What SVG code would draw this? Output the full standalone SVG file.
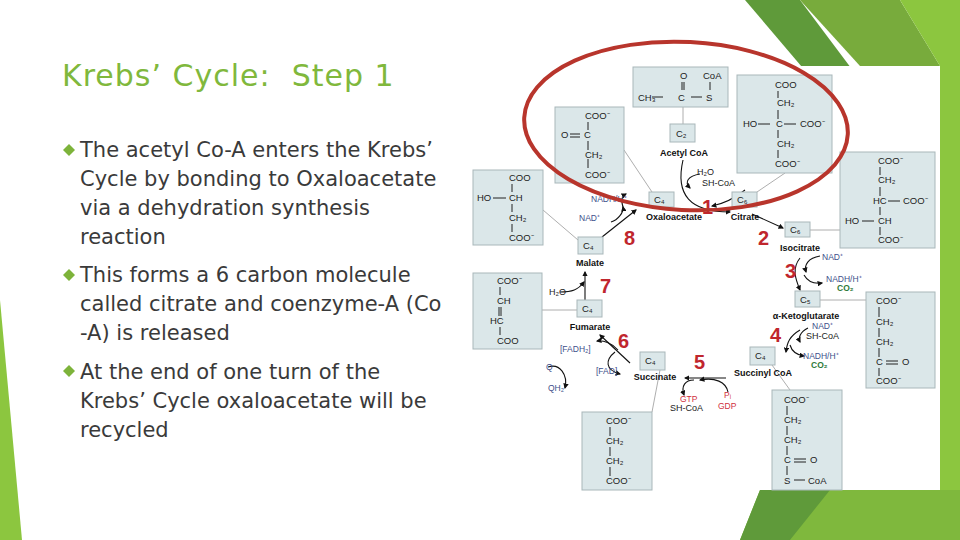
<svg xmlns="http://www.w3.org/2000/svg" width="960" height="540" viewBox="0 0 960 540">
<style>
.body{font-family:"DejaVu Sans",sans-serif;font-size:21px;fill:#3a3a3a}
.box{fill:#dbe7e9;stroke:#a9b7ba;stroke-width:1}
.ch{font-family:"Liberation Sans",Arial,sans-serif;font-size:9.5px;fill:#222}
.sm{font-family:"Liberation Sans",Arial,sans-serif;font-size:9px;fill:#222}
.nm{font-family:"Liberation Sans",Arial,sans-serif;font-size:9px;font-weight:bold;fill:#111}
.num{font-family:"Liberation Sans Narrow","Liberation Sans",sans-serif;font-size:20px;font-weight:bold;fill:#c0262d}
.bl{font-family:"Liberation Sans",sans-serif;font-size:8.5px;fill:#3d4f8a}
.gr{font-family:"Liberation Sans",sans-serif;font-size:8.5px;font-weight:bold;fill:#2f7a3a}
.rd{font-family:"Liberation Sans",sans-serif;font-size:8.5px;fill:#d03040}
.ln{stroke:#999;stroke-width:0.8;fill:none}
.ar{stroke:#111;stroke-width:1.1;fill:none;marker-end:url(#ah)}
.bond{stroke:#222;stroke-width:1;fill:none}
</style>
<defs><marker id="ah" markerWidth="5" markerHeight="5" refX="4" refY="2.5" orient="auto"><path d="M0,0 L5,2.5 L0,5 z" fill="#111"/></marker></defs>
<rect width="960" height="540" fill="#fff"/>
<g id="decor">
<polygon points="745,0 800,0 860,80 830,100" fill="#5f9a3a"/>
<polygon points="800,0 900,0 940,66 860,66" fill="#78ab3c"/>
<polygon points="900,0 960,0 960,540 940,540 940,66" fill="#8cc63f"/>
<polygon points="760,490 960,490 960,540 740,540" fill="#7fb83d"/>
<polygon points="760,490 830,490 790,540 740,540" fill="#5f9a3a"/>
<polygon points="0,300 22,540 0,540" fill="#8cc63f"/>
</g>
<g id="title"><text x="62" y="86" xml:space="preserve" font-family="DejaVu Sans,sans-serif" font-size="30" letter-spacing="1" fill="#80b83c">Krebs’ Cycle:  Step 1</text></g>
<g id="bullets">
<g fill="#7db33a"><path d="M63,150 l6,-6 l6,6 l-6,6z"/><path d="M63,275 l6,-6 l6,6 l-6,6z"/><path d="M63,371 l6,-6 l6,6 l-6,6z"/></g>
<text class="body" x="80" y="157">The acetyl Co-A enters the Krebs’</text>
<text class="body" x="80" y="186">Cycle by bonding to Oxaloacetate</text>
<text class="body" x="80" y="215">via a dehydration synthesis</text>
<text class="body" x="80" y="244">reaction</text>
<text class="body" x="80" y="282">This forms a 6 carbon molecule</text>
<text class="body" x="80" y="311">called citrate and coenzyme-A (Co</text>
<text class="body" x="80" y="340">-A) is released</text>
<text class="body" x="80" y="379">At the end of one turn of the</text>
<text class="body" x="80" y="408">Krebs’ Cycle oxaloacetate will be</text>
<text class="body" x="80" y="437">recycled</text>
</g>
<rect x="470" y="66" width="470" height="424" fill="#fff"/>
<g id="connectors">
<path class="ln" d="M683,107 V124 M624,150 L652,192 M757,192 L785,173 M543,210 L578,240 M810,230 H840 M542,310 H577 M652,412 L660,370 M820,300 H866 M772,365 L790,390"/>
<path class="ar" d="M683,160 C675,195 690,212 730,212"/>
<path class="ar" d="M700,174 C688,176 684,182 690,188"/>
<path class="ar" d="M745,190 C735,198 722,204 712,206"/>
<path class="ar" d="M675,210 H730"/>
<path class="ar" d="M752,214 L783,228"/>
<path class="ar" d="M800,258 C792,268 795,278 800,290"/>
<path class="ar" d="M820,256 C808,258 804,265 806,272"/>
<path class="ar" d="M804,275 C808,282 815,284 822,283"/>
<path class="ar" d="M800,330 C790,336 787,342 786,352"/>
<path class="ar" d="M808,328 C800,332 798,338 800,342"/>
<path class="ar" d="M790,345 C792,352 797,355 804,356"/>
<path class="ar" d="M726,378 H685"/>
<path class="ar" d="M728,392 C726,382 715,377 700,380"/>
<path class="ar" d="M694,380 C685,380 681,386 684,395"/>
<path class="ar" d="M630,363 L600,335"/>
<path class="ar" d="M618,350 C612,343 603,340 597,341"/>
<path class="ar" d="M615,352 C605,360 605,370 620,374"/>
<path class="ar" d="M548,367 C560,363 568,375 565,388"/>
<path class="ar" d="M585,300 V272"/>
<path class="ar" d="M560,292 C572,292 578,290 584,282"/>
<path class="ar" d="M602,237 L636,210"/>
<path class="ar" d="M611,222 C618,220 624,212 623,207"/>
<path class="ar" d="M624,210 C620,200 622,196 626,194"/>
</g>
<g id="acetyl"><rect class="box" x="633" y="67" width="95" height="40"/>
<text class="ch" x="680" y="79">O</text><text class="ch" x="703" y="79">CoA</text>
<path class="bond" d="M682,82 V90 M684,82 V90 M710,82 V90 M652,97 H663 M691,97 H702"/>
<text class="ch" x="638" y="101">CH₃</text><text class="ch" x="678" y="101">C</text><text class="ch" x="706" y="101">S</text>
<rect class="box" x="670" y="124" width="25" height="18"/><text class="ch" x="676" y="137">C₂</text>
<text class="nm" x="684" y="156" text-anchor="middle">Acetyl CoA</text></g>
<g id="oxaloacetate"><rect class="box" x="555" y="107" width="69" height="76"/>
<text class="ch" x="585" y="119">COO⁻</text><text class="ch" x="561" y="138">O</text><path class="bond" d="M570,134 H580 M570,137 H580 M588,122 V130 M588,141 V150 M588,159 V168"/><text class="ch" x="584" y="138">C</text>
<text class="ch" x="585" y="158">CH₂</text><text class="ch" x="585" y="178">COO⁻</text>
<rect class="box" x="649" y="192" width="25" height="15"/><text class="ch" x="654" y="203">C₄</text>
<text class="nm" x="674" y="220" text-anchor="middle">Oxaloacetate</text></g>
<g id="citrate"><rect class="box" x="737" y="75" width="95" height="98"/>
<text class="ch" x="775" y="88">COO</text><text class="ch" x="777" y="106">CH₂</text><text class="ch" x="743" y="127">HO</text><text class="ch" x="776" y="127">C</text><text class="ch" x="800" y="127">COO⁻</text><text class="ch" x="777" y="147">CH₂</text><text class="ch" x="775" y="167">COO⁻</text>
<path class="bond" d="M778,91 V98 M778,110 V119 M778,130 V138 M778,150 V158 M758,124 H770 M784,124 H796"/>
<rect class="box" x="732" y="192" width="25" height="15"/><text class="ch" x="737" y="203">C₆</text>
<text class="nm" x="745" y="220" text-anchor="middle">Citrate</text></g>
<g id="isocitrate"><rect class="box" x="840" y="152" width="95" height="96"/>
<text class="ch" x="878" y="164">COO⁻</text><text class="ch" x="878" y="183">CH₂</text><text class="ch" x="873" y="204">HC</text><text class="ch" x="903" y="204">COO⁻</text><text class="ch" x="845" y="224">HO</text><text class="ch" x="878" y="224">CH</text><text class="ch" x="878" y="243">COO⁻</text>
<path class="bond" d="M880,167 V175 M880,187 V196 M880,207 V215 M880,227 V235 M888,201 H900 M862,221 H874"/>
<rect class="box" x="785" y="222" width="25" height="15"/><text class="ch" x="790" y="233">C₆</text>
<text class="nm" x="800" y="251" text-anchor="middle">Isocitrate</text></g>
<g id="malate"><rect class="box" x="473" y="170" width="70" height="75"/>
<text class="ch" x="509" y="181">COO</text><text class="ch" x="477" y="201">HO</text><text class="ch" x="509" y="201">CH</text><text class="ch" x="509" y="221">CH₂</text><text class="ch" x="509" y="241">COO⁻</text>
<path class="bond" d="M512,184 V192 M512,204 V212 M512,224 V232 M493,198 H506"/>
<rect class="box" x="578" y="237" width="25" height="17"/><text class="ch" x="583" y="249">C₄</text>
<text class="nm" x="590" y="266" text-anchor="middle">Malate</text></g>
<g id="fumarate"><rect class="box" x="473" y="273" width="69" height="76"/>
<text class="ch" x="497" y="284">COO⁻</text><text class="ch" x="497" y="304">CH</text><text class="ch" x="490" y="324">HC</text><text class="ch" x="497" y="344">COO</text>
<path class="bond" d="M500,287 V295 M499,307 V316 M501,307 V316 M500,327 V335"/>
<rect class="box" x="577" y="300" width="25" height="17"/><text class="ch" x="582" y="312">C₄</text>
<text class="nm" x="590" y="330" text-anchor="middle">Fumarate</text></g>
<g id="succinate"><rect class="box" x="582" y="412" width="70" height="78"/>
<text class="ch" x="606" y="424">COO⁻</text><text class="ch" x="606" y="444">CH₂</text><text class="ch" x="606" y="464">CH₂</text><text class="ch" x="606" y="484">COO⁻</text>
<path class="bond" d="M610,427 V436 M610,447 V456 M610,467 V476" stroke-width="2"/>
<rect class="box" x="640" y="352" width="25" height="18"/><text class="ch" x="645" y="364">C₄</text>
<text class="nm" x="655" y="380" text-anchor="middle">Succinate</text></g>
<g id="succinylcoa"><rect class="box" x="772" y="390" width="70" height="100"/>
<text class="ch" x="784" y="403">COO⁻</text><text class="ch" x="784" y="423">CH₂</text><text class="ch" x="784" y="443">CH₂</text><text class="ch" x="784" y="463">C</text><text class="ch" x="810" y="463">O</text><text class="ch" x="784" y="484">S</text><text class="ch" x="808" y="484">CoA</text>
<path class="bond" d="M787,406 V415 M787,426 V435 M787,446 V455 M787,466 V475 M794,459 H806 M794,462 H806 M794,480 H805"/>
<rect class="box" x="750" y="347" width="25" height="18"/><text class="ch" x="755" y="359">C₄</text>
<text class="nm" x="763" y="376" text-anchor="middle">Succinyl CoA</text></g>
<g id="ketoglutarate"><rect class="box" x="866" y="292" width="69" height="96"/>
<text class="ch" x="876" y="304">COO⁻</text><text class="ch" x="876" y="325">CH₂</text><text class="ch" x="876" y="345">CH₂</text><text class="ch" x="876" y="365">C</text><text class="ch" x="902" y="365">O</text><text class="ch" x="876" y="384">COO⁻</text>
<path class="bond" d="M879,307 V317 M879,328 V337 M879,348 V357 M879,368 V376 M886,361 H898 M886,364 H898"/>
<rect class="box" x="795" y="291" width="25" height="16"/><text class="ch" x="800" y="303">C₅</text>
<text class="nm" x="806" y="319" text-anchor="middle">α-Ketoglutarate</text></g>
<g id="cofactors">
<text class="sm" x="697" y="175">H₂O</text><text class="sm" x="702" y="186">SH-CoA</text>
<text class="bl" x="591" y="202">NADH/H⁺</text><text class="bl" x="579" y="221">NAD⁺</text>
<text class="bl" x="822" y="260">NAD⁺</text><text class="bl" x="826" y="282">NADH/H⁺</text><text class="gr" x="837" y="291">CO₂</text>
<text class="sm" x="549" y="295">H₂O</text>
<text class="bl" x="812" y="329">NAD⁺</text><text class="sm" x="806" y="339">SH-CoA</text>
<text class="bl" x="803" y="359">NADH/H⁺</text><text class="gr" x="811" y="368">CO₂</text>
<text class="bl" x="560" y="352">[FADH₂]</text><text class="bl" x="596" y="374">[FAD]</text>
<text class="bl" x="546" y="370">Q</text><text class="bl" x="548" y="391">QH₂</text>
<text class="rd" x="680" y="402">GTP</text><text class="sm" x="670" y="411">SH-CoA</text>
<text class="rd" x="724" y="398">Pᵢ</text><text class="rd" x="718" y="409">GDP</text>
</g>
<g id="steps">
<text class="num" x="702" y="214">1</text><text class="num" x="758" y="245">2</text><text class="num" x="785" y="278">3</text><text class="num" x="770" y="342">4</text>
<text class="num" x="694" y="369">5</text><text class="num" x="618" y="348">6</text><text class="num" x="600" y="293">7</text><text class="num" x="624" y="245">8</text>
</g>
<ellipse id="highlight" cx="686" cy="126" rx="162" ry="84" fill="none" stroke="#b8352c" stroke-width="4" transform="rotate(3 686 126)"/>
</svg>
